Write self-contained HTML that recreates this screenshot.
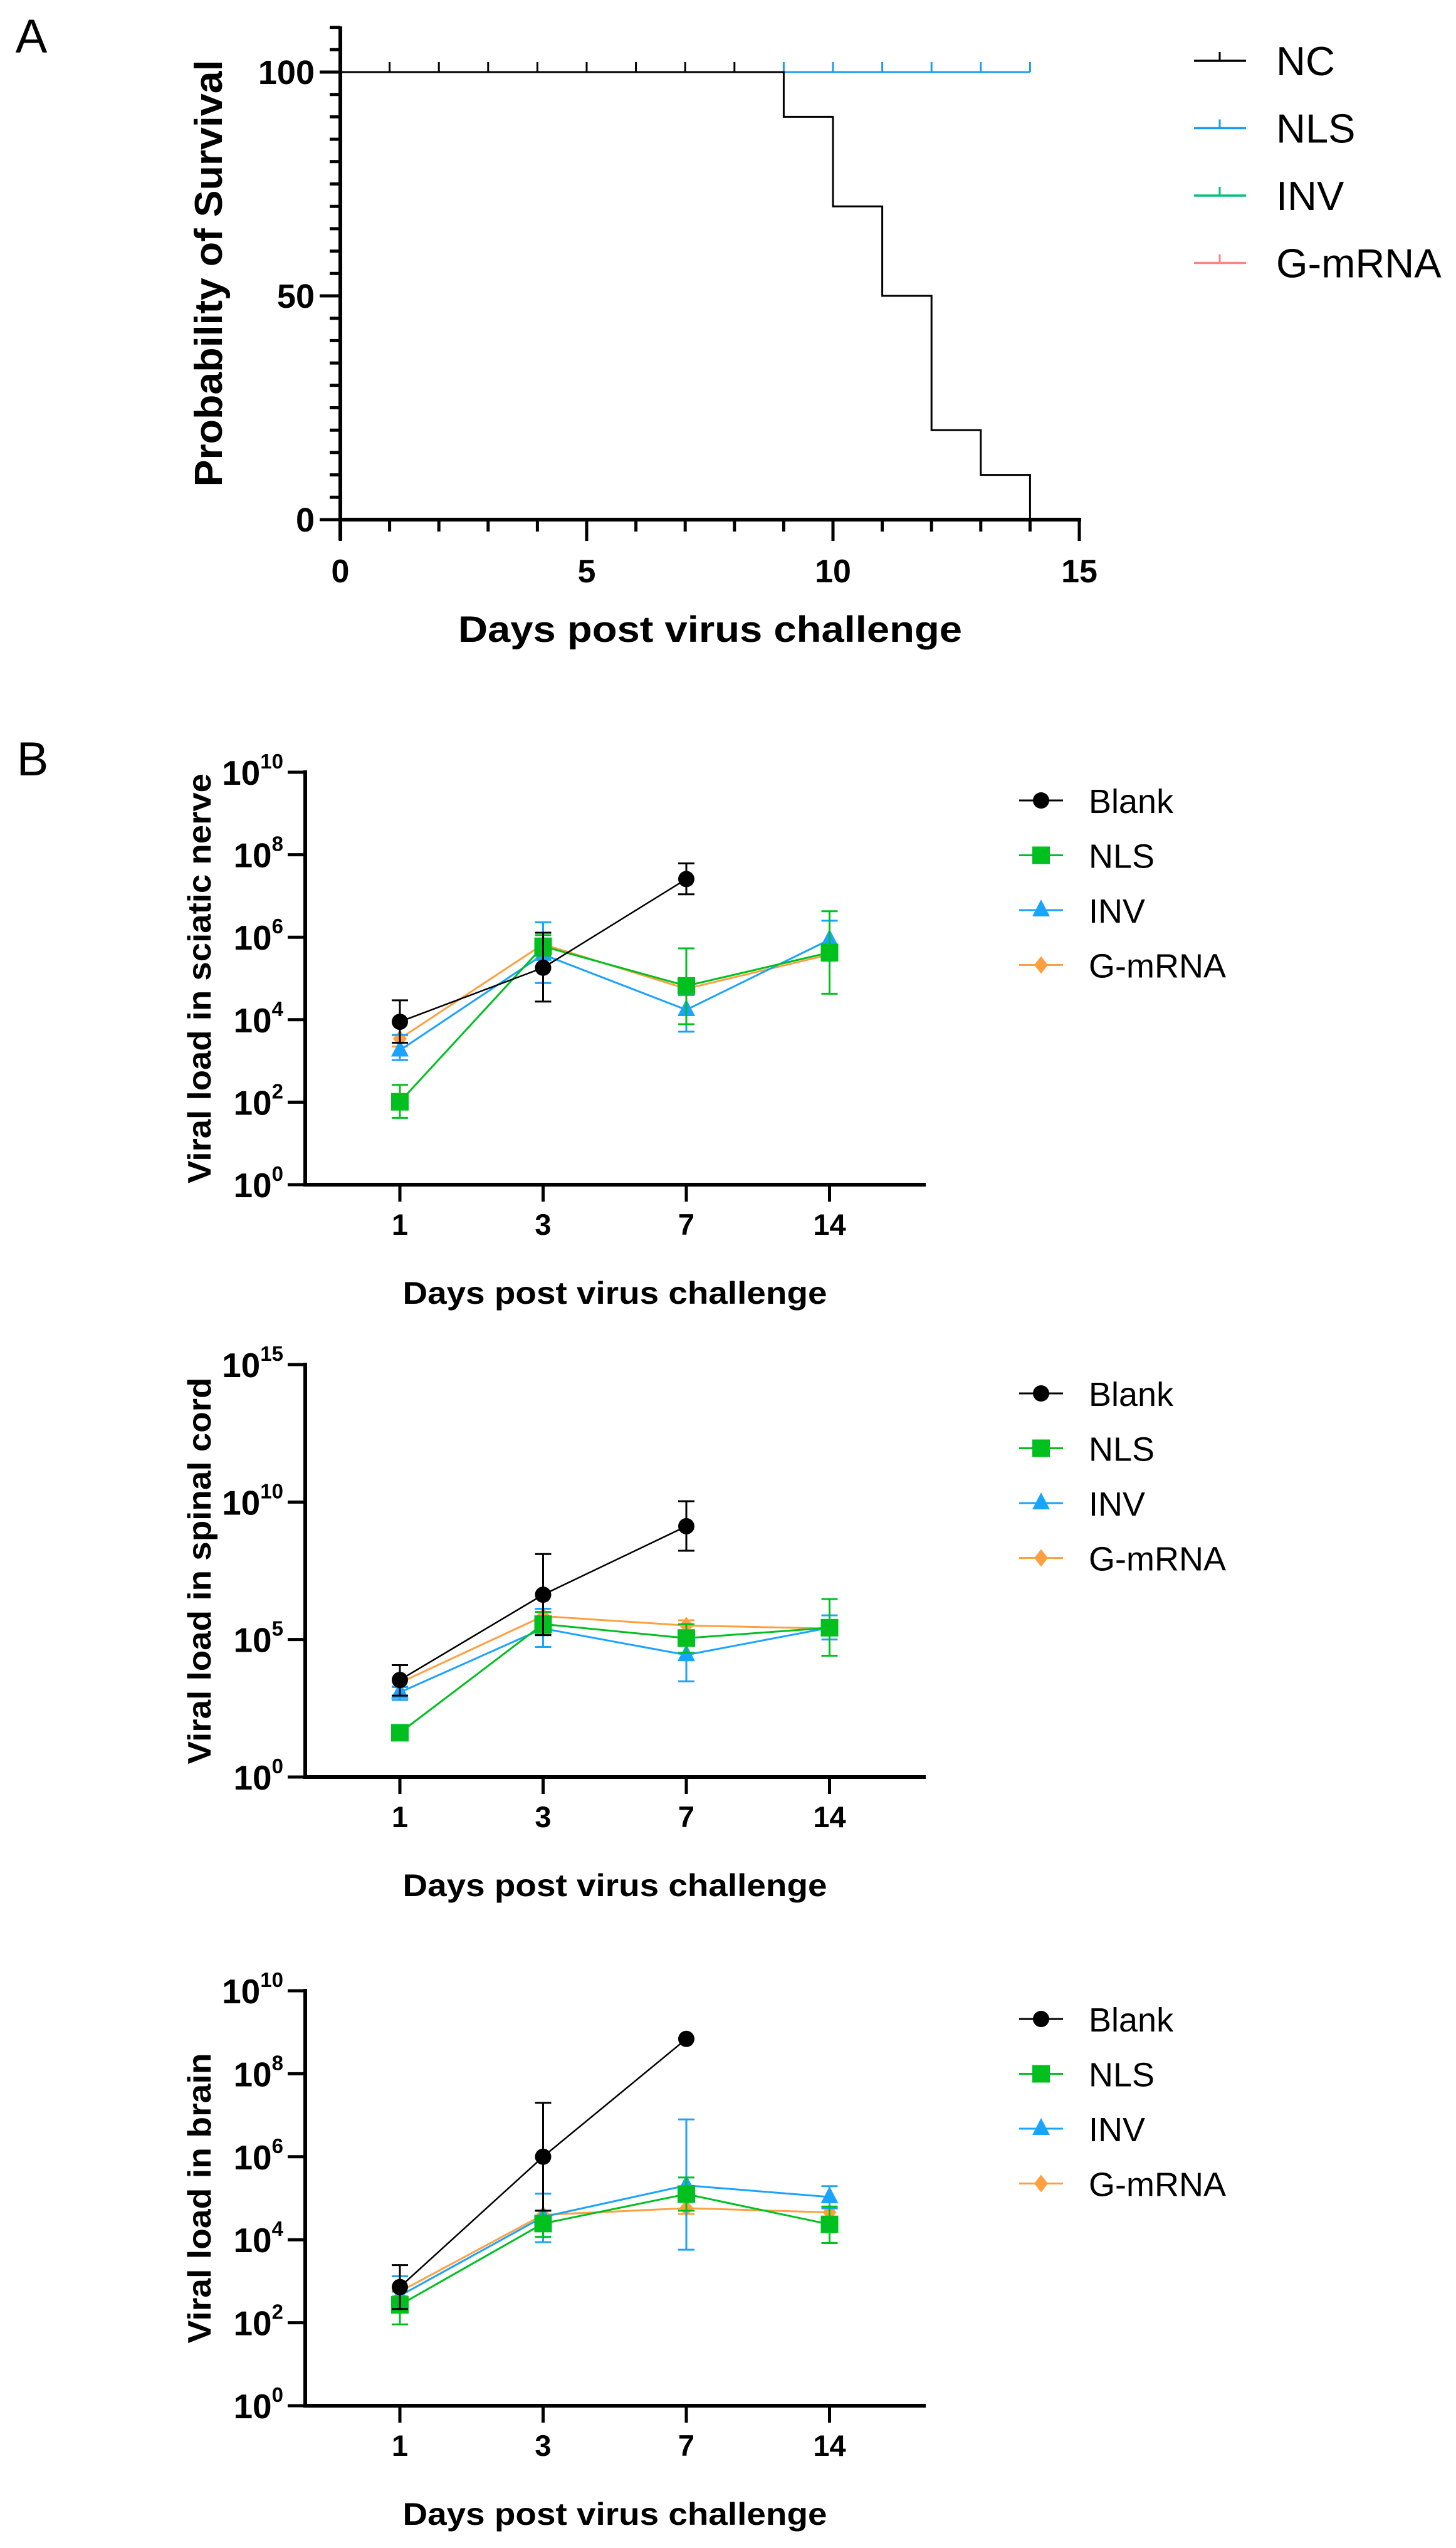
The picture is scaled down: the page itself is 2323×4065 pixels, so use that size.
<!DOCTYPE html>
<html><head><meta charset="utf-8"><style>
html,body{margin:0;padding:0;background:#fff;}
svg{display:block;font-family:"Liberation Sans",Arial,sans-serif;}
</style></head><body>
<svg id="fig" width="2323" height="4065" viewBox="0 0 2323 4065" xmlns="http://www.w3.org/2000/svg">
<rect width="2323" height="4065" fill="#fff"/>
<text x="50" y="84" font-size="76" text-anchor="middle">A</text>
<text x="52" y="1237" font-size="76" text-anchor="middle">B</text>
<g id="pa"></g>
<g id="c1"></g>
<g id="c2"></g>
<g id="c3"></g>
</svg>
<script>
// ---------- Panel A data ----------
const ncDays = [0, 9, 10, 11, 12, 13, 14];
const ncSurvival = [100, 90, 70, 50, 20, 10, 0];
const ncCensorDays = [1, 2, 3, 4, 5, 6, 7, 8];
const nlsEndDay = 14;
const nlsCensorDays = [9, 10, 11, 12, 13, 14];
const aXTicks = [0, 5, 10, 15];
const aYTicks = [0, 50, 100];
const aLegend = ["NC", "NLS", "INV", "G-mRNA"];

// ---------- Panel B data (log10 values) ----------
const days = ["1", "3", "7", "14"];
const groups = ["Blank", "NLS", "INV", "G-mRNA"];
const c1Blank = [3.95, 5.26, 7.41, null];
const c1BlankHi = [4.47, 6.11, 7.79, null];
const c1BlankLo = [3.44, 4.44, 7.04, null];
const c1NLS = [2.01, 5.78, 4.82, 5.63];
const c1NLSHi = [2.42, 6.05, 5.73, 6.63];
const c1NLSLo = [1.62, 5.55, 3.89, 4.63];
const c1INV = [3.26, 5.58, 4.24, 5.94];
const c1INVHi = [3.63, 6.36, 4.6, 6.4];
const c1INVLo = [3.02, 4.89, 3.71, 5.43];
const c1G = [3.54, 5.83, 4.75, 5.58];
const c1GHi = [3.62, 5.95, 4.85, 5.7];
const c1GLo = [3.35, 5.7, 4.6, 5.45];

const c2Blank = [3.53, 6.63, 9.12, null];
const c2BlankHi = [4.07, 8.11, 10.03, null];
const c2BlankLo = [2.96, 5.16, 8.23, null];
const c2NLS = [1.61, 5.56, 5.05, 5.43];
const c2NLSHi = [1.75, 6.0, 5.56, 6.47];
const c2NLSLo = [1.45, 5.16, 4.52, 4.41];
const c2INV = [3.08, 5.4, 4.44, 5.43];
const c2INVHi = [3.27, 6.12, 5.0, 5.88];
const c2INVLo = [2.8, 4.73, 3.48, 5.0];
const c2G = [3.43, 5.85, 5.51, 5.4];
const c2GHi = [3.6, 6.0, 5.7, 5.5];
const c2GLo = [3.3, 5.7, 5.35, 5.3];

const c3Blank = [2.86, 6.0, 8.84, null];
const c3BlankHi = [3.39, 7.3, 8.84, null];
const c3BlankLo = [2.33, 4.7, 8.84, null];
const c3NLS = [2.43, 4.39, 5.1, 4.37];
const c3NLSHi = [2.75, 4.7, 5.5, 4.8];
const c3NLSLo = [1.96, 4.07, 4.7, 3.92];
const c3INV = [2.65, 4.55, 5.31, 5.03];
const c3INVHi = [3.12, 5.11, 6.9, 5.29];
const c3INVLo = [2.3, 3.94, 3.76, 4.76];
const c3G = [2.75, 4.6, 4.76, 4.66];
const c3GHi = [2.85, 4.7, 4.92, 4.75];
const c3GLo = [2.65, 4.5, 4.62, 4.55];

const c1Ticks = [0, 2, 4, 6, 8, 10];
const c2Ticks = [0, 5, 10, 15];
const c3Ticks = [0, 2, 4, 6, 8, 10];

const NS = "http://www.w3.org/2000/svg";
function mk(parent, tag, attrs, text) {
  const e = document.createElementNS(NS, tag);
  for (const k in attrs) e.setAttribute(k, attrs[k]);
  if (text !== undefined) e.textContent = text;
  parent.appendChild(e);
  return e;
}

// ---------- Panel A ----------
(function () {
  const g = document.getElementById("pa");
  const X0 = 543, X1 = 1722, Y0 = 829, Y100 = 115;
  const xs = d => X0 + (X1 - X0) * d / 15;
  const ys = v => Y0 - (Y0 - Y100) * v / 100;
  const colA = ["#000", "#1E9BF0", "#00BF7D", "#F8877F"];
  // y axis
  let e = mk(g, "line", {x1: X0, y1: 42, x2: X0, y2: 862, stroke: "#000", "stroke-width": 6});
  
  
  for (let v = 0; v <= 110; v += 5) {
    const major = aYTicks.includes(v);
    mk(g, "line", {x1: X0 - (major ? 33 : 17), y1: ys(v), x2: X0, y2: ys(v), stroke: "#000", "stroke-width": 5});
  }
  aYTicks.forEach(v => {
    e = mk(g, "text", {x: 502, y: ys(v) + 19, "font-size": 54, "font-weight": "bold", "text-anchor": "end"}, String(v));
    
    
  });
  // x axis
  e = mk(g, "line", {x1: X0 - 3, y1: Y0, x2: X1 + 3, y2: Y0, stroke: "#000", "stroke-width": 6});
  
  
  for (let d = 0; d <= 15; d++) {
    const major = aXTicks.includes(d);
    mk(g, "line", {x1: xs(d), y1: Y0, x2: xs(d), y2: Y0 + (major ? 34 : 19), stroke: "#000", "stroke-width": 5});
  }
  aXTicks.forEach(d => {
    e = mk(g, "text", {x: xs(d), y: 929, "font-size": 52, "font-weight": "bold", "text-anchor": "middle"}, String(d));
    
    
  });
  e = mk(g, "text", {x: 1133, y: 1024, "font-size": 58, "font-weight": "bold", "text-anchor": "middle", textLength: 804, lengthAdjust: "spacingAndGlyphs"}, "Days post virus challenge");
  
  
  e = mk(g, "text", {x: 0, y: 0, "font-size": 62, "font-weight": "bold", "text-anchor": "middle", textLength: 681, lengthAdjust: "spacingAndGlyphs", transform: "translate(354,436) rotate(-90)"}, "Probability of Survival");
  
  
  // hidden INV / G-mRNA under NLS
  [3, 2].forEach(i => mk(g, "line", {x1: xs(0), y1: ys(100), x2: xs(nlsEndDay), y2: ys(100), stroke: colA[i], "stroke-width": 3}));
  // NLS
  e = mk(g, "line", {x1: xs(0), y1: ys(100), x2: xs(nlsEndDay), y2: ys(100), stroke: colA[1], "stroke-width": 3});
  
  
  nlsCensorDays.forEach(d => mk(g, "line", {x1: xs(d), y1: ys(100), x2: xs(d), y2: ys(100) - 16, stroke: colA[1], "stroke-width": 3}));
  // NC step
  let dstr = "M" + xs(ncDays[0]) + "," + ys(ncSurvival[0]);
  for (let i = 1; i < ncDays.length; i++) {
    dstr += " H" + xs(ncDays[i]) + " V" + ys(ncSurvival[i]);
  }
  e = mk(g, "path", {d: dstr, fill: "none", stroke: "#000", "stroke-width": 3});
  
  
  ncCensorDays.forEach(d => mk(g, "line", {x1: xs(d), y1: ys(100), x2: xs(d), y2: ys(100) - 16, stroke: "#000", "stroke-width": 3}));
  // legend
  aLegend.forEach((name, i) => {
    const y = 97 + i * 107.5;
    const lg = mk(g, "g", {});
    
    
    mk(lg, "line", {x1: 1905, y1: y, x2: 1988, y2: y, stroke: colA[i], "stroke-width": 3.5});
    mk(lg, "line", {x1: 1946, y1: y, x2: 1946, y2: y - 14, stroke: colA[i], "stroke-width": 3});
    mk(lg, "text", {x: 2036, y: y + 23, "font-size": 65}, name);
  });
})();

// ---------- Panel B ----------
const colB = {"Blank": "#000", "NLS": "#00C020", "INV": "#1AA3FF", "G-mRNA": "#FFA040"};
function drawChart(id, top, bottom, maxExp, ticks, title, titleLen, series, legendY) {
  const g = document.getElementById(id);
  const AX = 487, AXEND = 1477;
  const ys = v => bottom - (bottom - top) * v / maxExp;
  const xs = i => 638 + i * 228.5;
  let e = mk(g, "line", {x1: AX, y1: top - 3, x2: AX, y2: bottom + 3, stroke: "#000", "stroke-width": 6});
  
  
  e = mk(g, "line", {x1: AX - 3, y1: bottom, x2: AXEND, y2: bottom, stroke: "#000", "stroke-width": 6});
  
  
  ticks.forEach(t => {
    mk(g, "line", {x1: AX - 28, y1: ys(t), x2: AX, y2: ys(t), stroke: "#000", "stroke-width": 5});
    const tx = mk(g, "text", {x: 452, y: ys(t) + 20, "font-size": 55, "font-weight": "bold", "text-anchor": "end"});
    
    
    const a = mk(tx, "tspan", {}, "10");
    const b = mk(tx, "tspan", {"font-size": 33, dy: -26}, String(t));
  });
  days.forEach((d, i) => {
    mk(g, "line", {x1: xs(i), y1: bottom, x2: xs(i), y2: bottom + 27, stroke: "#000", "stroke-width": 5});
    e = mk(g, "text", {x: xs(i), y: bottom + 80, "font-size": 47, "font-weight": "bold", "text-anchor": "middle"}, d);
    
    
  });
  e = mk(g, "text", {x: 981, y: bottom + 190, "font-size": 50, "font-weight": "bold", "text-anchor": "middle", textLength: 677, lengthAdjust: "spacingAndGlyphs"}, "Days post virus challenge");
  
  
  e = mk(g, "text", {x: 0, y: 0, "font-size": 52, "font-weight": "bold", "text-anchor": "middle", textLength: titleLen, lengthAdjust: "spacingAndGlyphs", transform: "translate(336," + ((top + bottom) / 2) + ") rotate(-90)"}, title);
  
  

  const order = ["G-mRNA", "INV", "NLS", "Blank"];
  order.forEach(name => {
    const s = series[name];
    const c = colB[name];
    const sg = mk(g, "g", {});
    
    
    // error bars
    s.v.forEach((v, i) => {
      if (v === null) return;
      const x = xs(i);
      if (s.hi[i] !== s.lo[i]) {
        mk(sg, "line", {x1: x, y1: ys(s.hi[i]), x2: x, y2: ys(s.lo[i]), stroke: c, "stroke-width": 3});
        mk(sg, "line", {x1: x - 13, y1: ys(s.hi[i]), x2: x + 13, y2: ys(s.hi[i]), stroke: c, "stroke-width": 3});
        mk(sg, "line", {x1: x - 13, y1: ys(s.lo[i]), x2: x + 13, y2: ys(s.lo[i]), stroke: c, "stroke-width": 3});
      }
    });
    const pts = [];
    s.v.forEach((v, i) => { if (v !== null) pts.push(xs(i) + "," + ys(v)); });
    mk(sg, "polyline", {points: pts.join(" "), fill: "none", stroke: c, "stroke-width": name === "Blank" ? 2.5 : 3});
    s.v.forEach((v, i) => {
      if (v === null) return;
      const m = marker(sg, name, xs(i), ys(v), 1);
      
      
    });
  });
  // legend
  groups.forEach((name, i) => {
    const y = legendY + i * 87.5;
    const lg = mk(g, "g", {});
    
    
    mk(lg, "line", {x1: 1626, y1: y, x2: 1696, y2: y, stroke: colB[name], "stroke-width": 3});
    marker(lg, name, 1661, y, 1);
    mk(lg, "text", {x: 1737, y: y + 20, "font-size": 54}, name);
  });
}
function marker(parent, name, x, y, s) {
  const c = colB[name];
  if (name === "Blank") return mk(parent, "circle", {cx: x, cy: y, r: 13 * s, fill: c});
  if (name === "NLS") return mk(parent, "rect", {x: x - 14, y: y - 14, width: 28, height: 28, fill: c});
  if (name === "INV") return mk(parent, "polygon", {points: (x) + "," + (y - 17) + " " + (x + 14) + "," + (y + 10) + " " + (x - 14) + "," + (y + 10), fill: c});
  return mk(parent, "polygon", {points: x + "," + (y - 14) + " " + (x + 11) + "," + y + " " + x + "," + (y + 14) + " " + (x - 11) + "," + y, fill: c});
}

drawChart("c1", 1232, 1890, 10, c1Ticks, "Viral load in sciatic nerve", 654, {
  "Blank": {v: c1Blank, hi: c1BlankHi, lo: c1BlankLo},
  "NLS": {v: c1NLS, hi: c1NLSHi, lo: c1NLSLo},
  "INV": {v: c1INV, hi: c1INVHi, lo: c1INVLo},
  "G-mRNA": {v: c1G, hi: c1GHi, lo: c1GLo}
}, 1277);
drawChart("c2", 2177, 2835, 15, c2Ticks, "Viral load in spinal cord", 617, {
  "Blank": {v: c2Blank, hi: c2BlankHi, lo: c2BlankLo},
  "NLS": {v: c2NLS, hi: c2NLSHi, lo: c2NLSLo},
  "INV": {v: c2INV, hi: c2INVHi, lo: c2INVLo},
  "G-mRNA": {v: c2G, hi: c2GHi, lo: c2GLo}
}, 2223);
drawChart("c3", 3176, 3838, 10, c3Ticks, "Viral load in brain", 463, {
  "Blank": {v: c3Blank, hi: c3BlankHi, lo: c3BlankLo},
  "NLS": {v: c3NLS, hi: c3NLSHi, lo: c3NLSLo},
  "INV": {v: c3INV, hi: c3INVHi, lo: c3INVLo},
  "G-mRNA": {v: c3G, hi: c3GHi, lo: c3GLo}
}, 3221);
</script>
</body></html>
